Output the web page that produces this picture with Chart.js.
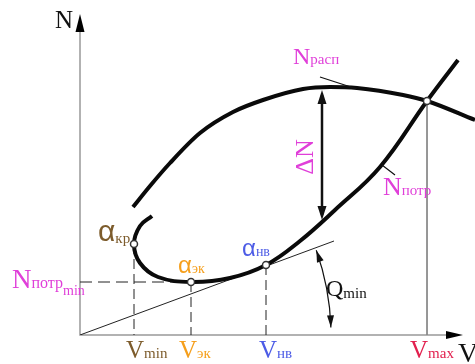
<!DOCTYPE html>
<html>
<head>
<meta charset="utf-8">
<script src="https://cdn.jsdelivr.net/npm/chart.js@4"></script>
<style>
  html, body { margin: 0; padding: 0; background: #fff; }
  #wrap { width: 475px; height: 364px; }
</style>
</head>
<body>
<div id="wrap"><canvas id="myChart" width="475" height="364"></canvas></div>
<script>
// available power curve N_расп(V)
const raspV = [53, 70, 90, 120, 153, 183, 223, 250, 277, 323, 347, 395];
const raspN = [128, 149, 172, 202, 223, 235, 246, 248, 247, 240, 234, 215];

// required power curve N_потр(V), drawn from the short piece above α_кр
const potrV = [72, 60, 54, 60, 78, 111, 150, 186, 220, 255, 300, 347, 378];
const potrN = [119, 109, 91, 72, 58, 53, 57, 70, 94, 125, 168, 234, 275];

// characteristic points: α_кр, α_эк, α_нв, V_max crossing
const pointNames = ["кр", "эк", "нв", "max"];
const pointV = [54, 111, 186, 347];
const pointN = [91, 53, 70, 234];

// tangent from the origin through α_нв
const tangentV = [0, 254];
const tangentN = [0, 94];

const xMax = 383;
const yMax = 321;

const magenta = '#e03fd9';
const brown = '#7d5c2c';
const orange = '#f59f1c';
const blue = '#4d5ce6';
const crimson = '#e2204e';

const toPts = (xs, ys) => xs.map((v, i) => ({ x: v, y: ys[i] }));

const curve = (xs, ys, extra) => Object.assign({
    data: toPts(xs, ys),
    showLine: true,
    borderColor: '#0a0a0a',
    borderWidth: 4,
    pointRadius: 0,
    clip: false,
    order: 1
}, extra);

const guide = (x0, y0, x1, y1, dash, color) => ({
    data: [{ x: x0, y: y0 }, { x: x1, y: y1 }],
    showLine: true,
    borderColor: color || '#222',
    borderWidth: 1,
    borderDash: dash || [],
    pointRadius: 0,
    order: 3
});

function arrowHead(ctx, x, y, ang, len, half) {
    ctx.save();
    ctx.translate(x, y);
    ctx.rotate(ang);
    ctx.beginPath();
    ctx.moveTo(0, 0);
    ctx.lineTo(-len, -half);
    ctx.lineTo(-len, half);
    ctx.closePath();
    ctx.fill();
    ctx.restore();
}

function label(ctx, x, y, parts, color) {
    ctx.fillStyle = color;
    ctx.textBaseline = 'alphabetic';
    ctx.textAlign = 'left';
    let cx = x;
    for (const p of parts) {
        ctx.font = p.size + 'px ' + (p.font || '"Liberation Serif"');
        ctx.fillText(p.t, cx + (p.dx || 0), y + (p.dy || 0));
        cx += ctx.measureText(p.t).width + (p.dx || 0);
    }
}

const alpha = size => ({ t: 'α', size: size, font: '"Liberation Sans"' });

const decor = {
    id: 'decor',
    beforeDatasetsDraw(chart) {
        const ctx = chart.ctx;
        const sx = chart.scales.x, sy = chart.scales.y;
        const X = v => sx.getPixelForValue(v), Y = n => sy.getPixelForValue(n);
        // axes
        ctx.save();
        ctx.strokeStyle = '#999';
        ctx.lineWidth = 1.5;
        ctx.beginPath();
        ctx.moveTo(X(0), Y(yMax) + 10);
        ctx.lineTo(X(0), Y(0));
        ctx.lineTo(X(xMax) - 10, Y(0));
        ctx.stroke();
        ctx.fillStyle = '#000';
        arrowHead(ctx, X(0), Y(yMax), -Math.PI / 2, 18, 4.5);
        arrowHead(ctx, X(xMax), Y(0), 0, 17, 4);
        ctx.restore();
    },
    afterDraw(chart) {
        const ctx = chart.ctx;
        const sx = chart.scales.x, sy = chart.scales.y;
        const X = v => sx.getPixelForValue(v), Y = n => sy.getPixelForValue(n);
        ctx.save();

        // leader lines to the curve labels
        ctx.strokeStyle = '#111';
        ctx.lineWidth = 1.2;
        ctx.beginPath();
        ctx.moveTo(X(240), Y(258)); ctx.lineTo(X(277), Y(246));
        ctx.moveTo(X(302), Y(170)); ctx.lineTo(X(315), Y(160));
        ctx.stroke();

        // ΔN double arrow
        ctx.lineWidth = 2.5;
        ctx.beginPath();
        ctx.moveTo(X(242), Y(240)); ctx.lineTo(X(242), Y(120));
        ctx.stroke();
        ctx.fillStyle = '#111';
        arrowHead(ctx, X(242), Y(245), -Math.PI / 2, 14, 4.5);
        arrowHead(ctx, X(242), Y(115), Math.PI / 2, 14, 4.5);

        // Q_min arc around the origin
        const r = X(251) - X(0);
        const a0 = -Math.atan2(tangentN[1], tangentV[1]) + 0.01;
        const a1 = -0.03;
        ctx.lineWidth = 1.2;
        ctx.beginPath();
        ctx.arc(X(0), Y(0), r, a0, a1);
        ctx.stroke();
        arrowHead(ctx, X(0) + r * Math.cos(a0), Y(0) + r * Math.sin(a0), a0 - Math.PI / 2, 12, 3.5);
        arrowHead(ctx, X(0) + r * Math.cos(a1), Y(0) + r * Math.sin(a1), a1 + Math.PI / 2, 12, 3.5);

        // axis names
        label(ctx, X(-25), Y(307), [{ t: 'N', size: 25 }], '#111');
        label(ctx, X(378), Y(-27), [{ t: 'V', size: 28 }], '#111');

        // speeds on the V axis
        label(ctx, X(46), Y(-23), [{ t: 'V', size: 25 }, { t: 'min', size: 15 }], brown);
        label(ctx, X(99), Y(-23), [{ t: 'V', size: 25 }, { t: 'эк', size: 15 }], orange);
        label(ctx, X(179), Y(-23), [{ t: 'V', size: 25 }, { t: 'нв', size: 15 }], blue);
        label(ctx, X(330), Y(-23), [{ t: 'V', size: 25 }, { t: 'max', size: 15 }], crimson);

        // minimum required power
        label(ctx, X(-68), Y(47), [{ t: 'N', size: 27 }, { t: 'потр', size: 16 }, { t: 'min', size: 14, dy: 7 }], magenta);

        // angles of attack
        label(ctx, X(18), Y(94), [alpha(30), { t: pointNames[0], size: 15, dy: 2 }], brown);
        label(ctx, X(98), Y(62), [alpha(24), { t: pointNames[1], size: 14 }], orange);
        label(ctx, X(162), Y(79), [alpha(24), { t: pointNames[2], size: 14 }], blue);

        // curve names
        label(ctx, X(213), Y(271), [{ t: 'N', size: 24 }, { t: 'расп', size: 15 }], magenta);
        label(ctx, X(303), Y(140), [{ t: 'N', size: 26 }, { t: 'потр', size: 15 }], magenta);
        label(ctx, X(246), Y(39), [{ t: 'Q', size: 24 }, { t: 'min', size: 15, dy: 2 }], '#111');

        // ΔN, written along the arrow
        ctx.save();
        ctx.translate(X(226), Y(178));
        ctx.rotate(-Math.PI / 2);
        ctx.font = '26px "Liberation Serif"';
        ctx.fillStyle = magenta;
        ctx.textAlign = 'center';
        ctx.textBaseline = 'middle';
        ctx.fillText('ΔN', 0, 0);
        ctx.restore();

        ctx.restore();
    }
};

const ctx = document.getElementById('myChart').getContext('2d');

const data = {
    datasets: [
        {
            data: toPts(pointV, pointN),
            pointRadius: 3.5,
            pointBackgroundColor: '#fff',
            pointBorderColor: '#333',
            pointBorderWidth: 1.5,
            showLine: false,
            clip: false,
            order: 0
        },
        curve(raspV, raspN, { cubicInterpolationMode: 'monotone' }),
        curve(potrV, potrN, { tension: 0.4 }),
        {
            data: toPts(tangentV, tangentN),
            showLine: true,
            borderColor: '#222',
            borderWidth: 1,
            pointRadius: 0,
            order: 2
        },
        guide(pointV[0], pointN[0], pointV[0], 0, [10, 5]),
        guide(pointV[1], pointN[1], pointV[1], 0, [10, 5]),
        guide(pointV[2], pointN[2], pointV[2], 0, [10, 5]),
        guide(0, pointN[1], pointV[1], pointN[1], [12, 6]),
        guide(pointV[3], pointN[3], pointV[3], 0, [], '#888')
    ]
};

const config = {
    type: 'scatter',
    data: data,
    options: {
        responsive: false,
        animation: false,
        devicePixelRatio: 1,
        layout: { padding: { left: 80, right: 12, top: 14, bottom: 29 } },
        plugins: { legend: { display: false }, tooltip: { enabled: false } },
        scales: {
            x: { type: 'linear', min: 0, max: xMax, display: false },
            y: { type: 'linear', min: 0, max: yMax, display: false }
        }
    },
    plugins: [decor]
};

const myChart = new Chart(ctx, config);
</script>
</body>
</html>
